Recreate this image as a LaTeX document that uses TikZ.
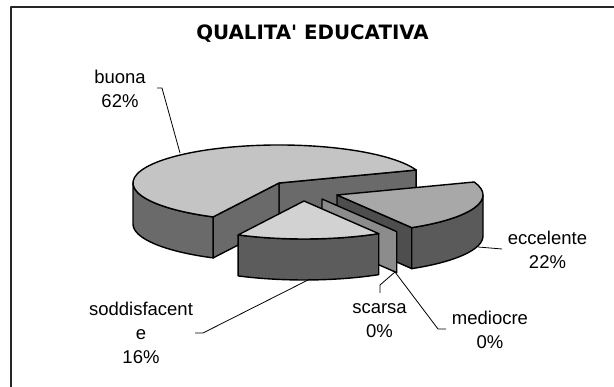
\documentclass[tikz,border=0pt]{standalone}
\usepackage{fontspec}
\setmainfont{Liberation Sans}
\newfontfamily\titlefont{DejaVu Sans}
\usetikzlibrary{calc}
\definecolor{topB}{HTML}{C4C4C4}
\definecolor{sideB}{HTML}{6A6A6A}
\definecolor{topS}{HTML}{D2D2D2}
\definecolor{sideS}{HTML}{5C5C5C}
\definecolor{topE}{HTML}{A8A8A8}
\definecolor{sideE}{HTML}{5A5A5A}
\definecolor{faceE}{HTML}{4E4E4E}
\definecolor{wallc}{HTML}{8C8C8C}
\begin{document}
\begin{tikzpicture}[x=1pt,y=1pt,line join=round,
  face/.style={draw=black,line width=1.4pt},
  lbl/.style={font=\fontsize{18.5}{24}\selectfont,align=center,inner sep=0pt},
  leader/.style={draw=black,line width=0.8pt},
  ell/.style={x radius=146,y radius=38}]
\useasboundingbox (0,0) rectangle (614,387);
\fill[white] (0,0) rectangle (614,387);
\draw[line width=1.4pt,black!85] (11,0) -- (11,380) -- (614,380);
\def\h{41}
\coordinate (B) at (279,204);
\coordinate (S) at (304,186);
\coordinate (E) at (337,192);
\coordinate (W) at (322,188);
% buona
\filldraw[face,fill=sideB] (B) -- ($(B)+(20:146 and 38)$) -- ++(0,-\h) -- ($(B)+(0,-\h)$) -- cycle;
\filldraw[face,fill=sideB] (B) -- ($(B)+(243.2:146 and 38)$) -- ++(0,-\h) -- ($(B)+(0,-\h)$) -- cycle;
\filldraw[face,fill=sideB] ($(B)+(180:146 and 38)$) arc[ell,start angle=180,end angle=243.2] -- ++(0,-\h) arc[ell,start angle=243.2,end angle=180] -- cycle;
\filldraw[face,fill=topB] (B) -- ($(B)+(20:146 and 38)$) arc[ell,start angle=20,end angle=243.2] -- cycle;
% eccelente
\filldraw[face,fill=faceE] (E) -- ($(E)+(300.8:146 and 38)$) -- ++(0,-\h) -- ($(E)+(0,-\h)$) -- cycle;
\filldraw[face,fill=sideE] ($(E)+(300.8:146 and 38)$) arc[ell,start angle=300.8,end angle=360] -- ++(0,-\h) arc[ell,start angle=360,end angle=300.8] -- cycle;
\filldraw[face,fill=topE] (E) -- ($(E)+(300.8:146 and 38)$) arc[ell,start angle=300.8,end angle=380] -- cycle;
% scarsa / mediocre wall
\filldraw[face,fill=wallc] (W) -- ($(W)+(300.8:146 and 38)$) -- ++(0,-\h) -- ($(W)+(0,-\h)$) -- cycle;
% soddisfacente
\filldraw[face,fill=sideS] ($(S)+(243.2:146 and 38)$) arc[ell,start angle=243.2,end angle=300.8] -- ++(0,-\h) arc[ell,start angle=300.8,end angle=243.2] -- cycle;
\filldraw[face,fill=topS] (S) -- ($(S)+(243.2:146 and 38)$) arc[ell,start angle=243.2,end angle=300.8] -- cycle;
% title
\node (title) at (312.5,353) {\titlefont\bfseries\fontsize{19.8}{22}\selectfont QUALITA\textquotesingle\ EDUCATIVA};
% labels
\node[lbl] (lbuona) at (120,298.5) {buona\\62\%};
\node[lbl] (lecc) at (547.5,137) {eccelente\\22\%};
\node[lbl] (lsodd) at (141,54) {soddisfacent\\e\\16\%};
\node[lbl] (lscar) at (379.5,66) {scarsa\\0\%};
\node[lbl] (lmed) at (490,57.5) {mediocre\\0\%};
% leaders
\coordinate (b1) at (157,299); \coordinate (b2) at (162,299); \coordinate (b3) at (180,234);
\draw[leader] (b1) -- (b2) -- (b3);
\coordinate (e1) at (502,138); \coordinate (e2) at (478,140);
\draw[leader] (e1) -- (e2);
\coordinate (s1) at (195,54); \coordinate (s2) at (203,54); \coordinate (s3) at (310,108);
\draw[leader] (s1) -- (s2) -- (s3);
\coordinate (w0) at (395,115);
\coordinate (c1) at (380,102); \coordinate (c2) at (380,94);
\draw[leader] (w0) -- (c1) -- (c2);
\coordinate (m1) at (438,58); \coordinate (m2) at (446,58);
\draw[leader] (w0) -- (m1) -- (m2);
\end{tikzpicture}
\end{document}
